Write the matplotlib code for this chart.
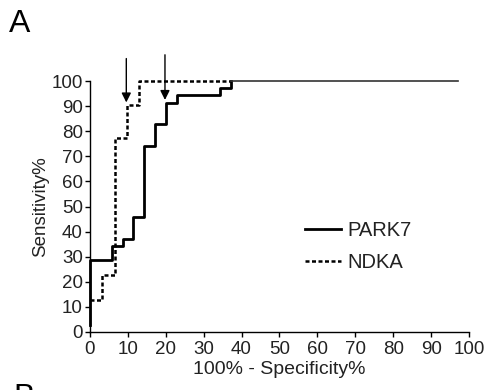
import matplotlib.pyplot as plt

plt.rcParams['font.family'] = ['Liberation Sans', 'DejaVu Sans']

# ROC step points (100% - specificity, sensitivity)
park7_fpr = [0, 0, 5.7, 8.6, 11.4, 14.3, 17.1, 20.0, 22.9, 34.3, 37.1, 97]
park7_sens = [2.9, 28.6, 34.3, 37.1, 45.7, 74.3, 82.9, 91.4, 94.3, 97.1, 100, 100]

ndka_fpr = [0, 3.2, 6.5, 9.7, 12.9, 37.1]
ndka_sens = [12.9, 22.6, 77.4, 90.3, 100, 100]

# arrows marking chosen cut-offs
arrow_x = [9.6, 19.8]
arrow_tip = [91.5, 92.5]
arrow_top = [109, 110.5]

ticks = list(range(0, 101, 10))

fig = plt.figure(figsize=(4.86, 3.9), dpi=100)
ax = fig.add_axes([0.185, 0.149, 0.78, 0.643])

ax.plot(ndka_fpr, ndka_sens, drawstyle='steps-post', color='black', lw=1.8,
        dashes=(1.6, 1.0), clip_on=False, label='NDKA')
ax.plot(park7_fpr[:-1], park7_sens[:-1], drawstyle='steps-post', color='black',
        lw=2.0, clip_on=False, label='PARK7')
ax.plot(park7_fpr[-2:], park7_sens[-2:], color='#333333', lw=1.2, clip_on=False)

for x, tip, top in zip(arrow_x, arrow_tip, arrow_top):
    ax.annotate('', xy=(x, tip), xytext=(x, top), annotation_clip=False,
                arrowprops=dict(arrowstyle='-|>', color='black', lw=1.0,
                                mutation_scale=14, shrinkA=0, shrinkB=0))

ax.set_xlim(0, 100)
ax.set_ylim(0, 100)
ax.set_xticks(ticks)
ax.set_yticks(ticks)
ax.tick_params(direction='out', length=3.6, width=1, labelsize=13.5, pad=1.5,
               labelcolor='#222222')
ax.tick_params(axis='x', pad=3)
for s in ['top', 'right']:
    ax.spines[s].set_visible(False)
for s in ['left', 'bottom']:
    ax.spines[s].set_linewidth(1.0)

ax.set_xlabel('100% - Specificity%', fontsize=14, labelpad=2, color='#222222')
ax.set_ylabel('Sensitivity%', fontsize=13.5, labelpad=2, color='#222222')

h, l = ax.get_legend_handles_labels()
leg = ax.legend([h[1], h[0]], [l[1], l[0]], loc='lower left',
                bbox_to_anchor=(0.52, 0.165), frameon=False, fontsize=14.5,
                handlelength=1.8, handletextpad=0.3, labelspacing=0.65)
for t in leg.get_texts():
    t.set_color('#222222')

fig.text(0.019, 0.918, 'A', fontsize=23)
fig.text(0.027, 0.018, 'B', fontsize=23, va='top')

fig.savefig('out.png', dpi=100)
